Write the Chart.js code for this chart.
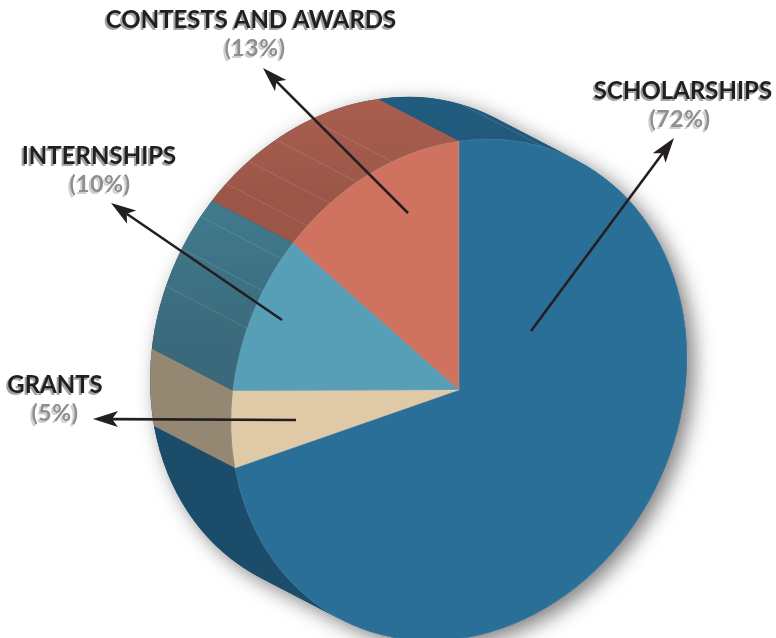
<!DOCTYPE html>
<html>
<head>
<meta charset="utf-8">
<style>
  html, body { margin: 0; padding: 0; background: #fff; }
  canvas { display: block; }
</style>
<script src="https://cdn.jsdelivr.net/npm/chart.js@4"></script>
</head>
<body>
<canvas id="myChart" width="776" height="638"></canvas>
<script>
const categories = ["SCHOLARSHIPS", "GRANTS", "INTERNSHIPS", "CONTESTS AND AWARDS"];
const shares = [72, 5, 10, 13];
const faceColors = ["#2A6F98", "#DFC9A6", "#579FB7", "#D07260"];
// rim colour at the start and at the end of each slice
const rimStart = ["#215B7E", "#948872", "#3A697B", "#9B5647"];
const rimEnd = ["#1B4D6B", "#948872", "#407B8D", "#A95E4F"];
// fold lines on the rim, as a percentage round the pie
const ribShares = [6, 81, 83.5, 85.8, 88.4, 90.4, 92.6, 95.25];

// the flat pie is sheared into this tilted disc
const disc = { x: 459, y: 390, ux: 228, uy: -32, vy: 249 };
const rim = { dx: -81, dy: -42 };

const callouts = [
	{ cx: 683, title: 99, pctX: 680, pct: 127, tail: [531, 331], tip: [674, 138] },
	{ cx: 55, title: 393, pctX: 55, pct: 421, tail: [296, 420], tip: [93, 419] },
	{ cx: 99, title: 164, pctX: 100, pct: 192, tail: [282, 320], tip: [111, 203] },
	{ cx: 251, title: 28, pctX: 255, pct: 56, tail: [408, 213], tip: [263, 68] }
];

const FULL = Math.PI * 2;
const TOP = -Math.PI / 2;
// angle where the side of the solid leaves the disc edge (measured from 12 o'clock)
const tangent = Math.atan((rim.dy / rim.dx * disc.ux - disc.uy) / disc.vy);

function applyDisc(ctx, arc) {
	const r = arc.outerRadius;
	const a = disc.ux / r, b = disc.uy / r, d = disc.vy / r;
	ctx.transform(a, b, 0, d, disc.x - a * arc.x, disc.y - b * arc.x - d * arc.y);
}

function bandPath(ctx, arc, start, end) {
	ctx.save();
	applyDisc(ctx, arc);
	ctx.arc(arc.x, arc.y, arc.outerRadius, start, end);
	ctx.restore();
	ctx.save();
	ctx.translate(rim.dx, rim.dy);
	applyDisc(ctx, arc);
	ctx.arc(arc.x, arc.y, arc.outerRadius, end, start, true);
	ctx.restore();
	ctx.closePath();
}

// y of the disc edge at a chart angle
function edgeY(angle) {
	const t = angle - TOP;
	return disc.y + disc.uy * Math.sin(t) - disc.vy * Math.cos(t);
}

const discPlugin = {
	id: "discPlugin",
	beforeDatasetsDraw(chart) {
		const ctx = chart.ctx;
		const arcs = chart.getDatasetMeta(0).data;
		const first = arcs[0];
		// only this stretch of the edge has a visible side
		const seenFrom = TOP + tangent + Math.PI;
		const seenTo = TOP + tangent + FULL;

		// drop shadow under the whole solid
		ctx.save();
		ctx.shadowColor = "rgba(0,0,0,0.5)";
		ctx.shadowBlur = 20;
		ctx.shadowOffsetX = 7;
		ctx.shadowOffsetY = 6;
		ctx.fillStyle = "#1B4D6B";
		ctx.beginPath();
		bandPath(ctx, first, seenFrom, seenTo);
		ctx.save();
		applyDisc(ctx, first);
		ctx.moveTo(first.x + first.outerRadius, first.y);
		ctx.arc(first.x, first.y, first.outerRadius, 0, FULL);
		ctx.restore();
		ctx.fill();
		ctx.restore();

		// rim of each slice, clipped to the visible stretch
		arcs.forEach((arc, i) => {
			const g = ctx.createLinearGradient(0, edgeY(arc.startAngle) + rim.dy, 0, edgeY(arc.endAngle) + rim.dy);
			g.addColorStop(0, rimStart[i]);
			g.addColorStop(1, rimEnd[i]);
			ctx.fillStyle = g;
			[0, FULL].forEach(turn => {
				const a = Math.max(arc.startAngle + turn, seenFrom);
				const b = Math.min(arc.endAngle + turn, seenTo);
				if (b > a) {
					ctx.beginPath();
					bandPath(ctx, arc, a, b);
					ctx.fill();
				}
			});
		});

		// fold lines
		ctx.strokeStyle = "rgba(255,255,255,0.12)";
		ctx.lineWidth = 1;
		ribShares.forEach(p => {
			const t = p / 100 * FULL;
			const x = disc.x + disc.ux * Math.sin(t);
			const y = disc.y + disc.uy * Math.sin(t) - disc.vy * Math.cos(t);
			ctx.beginPath();
			ctx.moveTo(x, y);
			ctx.lineTo(x + rim.dx, y + rim.dy);
			ctx.stroke();
		});

		ctx.save();
		applyDisc(ctx, first);
	},
	afterDatasetsDraw(chart) {
		chart.ctx.restore();
	},
	afterDraw(chart) {
		const ctx = chart.ctx;
		callouts.forEach((c, i) => {
			drawArrow(ctx, c.tail, c.tip);
			ctx.textAlign = "center";
			ctx.textBaseline = "alphabetic";
			ctx.font = "700 24px Lato";
			ctx.letterSpacing = "0px";
			ctx.fillStyle = "#A3A3A3";
			ctx.fillText(categories[i], c.cx - 2, c.title + 2);
			ctx.fillStyle = "#231F20";
			ctx.fillText(categories[i], c.cx, c.title);
			const pct = "(" + shares[i] + "%)";
			ctx.font = "700 23px Lato";
			ctx.letterSpacing = "0.6px";
			ctx.fillStyle = "#CFCFCF";
			ctx.fillText(pct, c.pctX - 2, c.pct + 2);
			ctx.fillStyle = "#8F8F8F";
			ctx.fillText(pct, c.pctX, c.pct);
		});
	}
};

function drawArrow(ctx, tail, tip) {
	const ang = Math.atan2(tip[1] - tail[1], tip[0] - tail[0]);
	const ca = Math.cos(ang), sa = Math.sin(ang);
	const at = (back, side) => [tip[0] - back * ca - side * sa, tip[1] - back * sa + side * ca];
	const notch = at(19, 0), w1 = at(25, 8), w2 = at(25, -8);
	ctx.strokeStyle = "#231F20";
	ctx.fillStyle = "#231F20";
	ctx.lineWidth = 2.6;
	ctx.beginPath();
	ctx.moveTo(tail[0], tail[1]);
	ctx.lineTo(notch[0], notch[1]);
	ctx.stroke();
	ctx.beginPath();
	ctx.moveTo(tip[0], tip[1]);
	ctx.lineTo(w1[0], w1[1]);
	ctx.lineTo(notch[0], notch[1]);
	ctx.lineTo(w2[0], w2[1]);
	ctx.closePath();
	ctx.fill();
}

new Chart(document.getElementById("myChart").getContext("2d"), {
	type: "pie",
	data: {
		labels: categories,
		datasets: [{
			data: shares,
			backgroundColor: faceColors,
			borderWidth: 1,
			borderColor: "rgba(255,255,255,0.15)",
			clip: false
		}]
	},
	options: {
		responsive: false,
		animation: false,
		events: [],
		plugins: { legend: { display: false }, tooltip: { enabled: false } }
	},
	plugins: [discPlugin]
});
</script>
</body>
</html>
